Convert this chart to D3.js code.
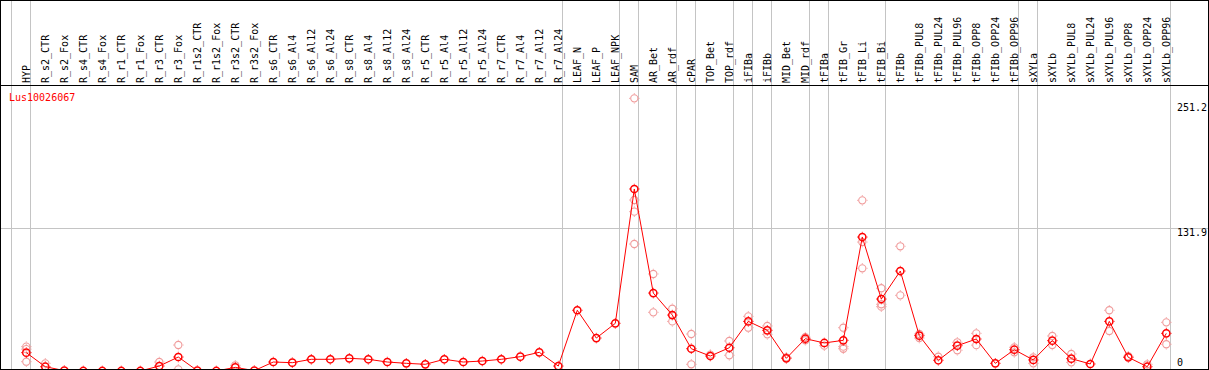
<!DOCTYPE html>
<html>
<head>
<meta charset="utf-8">
<script src="https://cdn.jsdelivr.net/npm/d3@7.9.0/dist/d3.min.js"></script>
<style>
  html, body { margin: 0; padding: 0; background: #fff; }
  svg { display: block; }
  text { font-family: 'DejaVu Sans Mono', monospace; font-size: 10px; }
</style>
</head>
<body>
<svg id="chart" width="1209" height="370"></svg>
<script>
const geneName = 'Lus10026067';

const samples = [
  'HYP', 'R_s2_CTR', 'R_s2_Fox', 'R_s4_CTR', 'R_s4_Fox', 'R_r1_CTR', 'R_r1_Fox',
  'R_r3_CTR', 'R_r3_Fox', 'R_r1s2_CTR', 'R_r1s2_Fox', 'R_r3s2_CTR', 'R_r3s2_Fox',
  'R_s6_CTR', 'R_s6_Al4', 'R_s6_Al12', 'R_s6_Al24', 'R_s8_CTR', 'R_s8_Al4',
  'R_s8_Al12', 'R_s8_Al24', 'R_r5_CTR', 'R_r5_Al4', 'R_r5_Al12', 'R_r5_Al24',
  'R_r7_CTR', 'R_r7_Al4', 'R_r7_Al12', 'R_r7_Al24', 'LEAF_N', 'LEAF_P', 'LEAF_NPK',
  'SAM', 'AR_Bet', 'AR_rdf', 'cPAR', 'TOP_Bet', 'TOP_rdf', 'iFIBa', 'iFIBb',
  'MID_Bet', 'MID_rdf', 'tFIBa', 'tFIB_Gr', 'tFIB_Li', 'tFIB_Bi', 'tFIBb',
  'tFIBb_PUL8', 'tFIBb_PUL24', 'tFIBb_PUL96', 'tFIBb_OPP8', 'tFIBb_OPP24', 'tFIBb_OPP96',
  'sXYLa', 'sXYLb', 'sXYLb_PUL8', 'sXYLb_PUL24', 'sXYLb_PUL96', 'sXYLb_OPP8',
  'sXYLb_OPP24', 'sXYLb_OPP96'
];

// mean expression per sample
const means = [
  17.3, 4.4, 0.8, 0.5, 0.5, 0.5, 0.5, 5.0, 13.3, 0.8, 0.5, 3.8, 0.8,
  8.7, 8.1, 11.2, 11.2, 12.1, 11.2, 8.7, 7.5, 6.6, 11.2, 8.7, 9.6,
  11.2, 13.6, 17.6, 5.0, 56.2, 30.7, 44.2,
  167.5, 72.0, 51.8, 20.9, 14.2, 21.8, 46.0, 37.8,
  12.1, 30.1, 26.2, 28.6, 123.4, 66.5, 92.2,
  32.9, 10.3, 23.7, 29.8, 7.5, 20.0,
  10.6, 28.3, 11.8, 6.9, 46.0, 13.0, 4.4, 35.0
];

// individual replicates (only the ones that show apart from the mean)
const replicates = [
  [22.8, 20.5, 9.0], [7.5], [], [], [], [], [], [8.7], [24.3, 2.0], [], [], [5.7], [],
  [], [], [], [], [], [], [], [], [], [], [], [],
  [], [], [], [], [], [], [],
  [250.7, 157.4, 146.7, 117.0], [89.5, 54.3], [57.6, 46.0], [34.4, 6.6], [15.5], [28.0, 14.9], [50.6, 40.2], [41.8, 34.1],
  [13.0], [31.5, 28.7], [23.7], [40.2, 22.8, 20.9], [157.1, 118.8, 94.7], [76.4, 61.7, 59.5], [114.9, 69.9],
  [34.4, 30.7], [13.6], [26.8, 19.5], [35.0, 24.2], [], [22.2, 17.6],
  [13.0, 7.5], [32.6, 24.3], [16.1, 8.4], [], [56.2, 37.2], [14.0], [6.6], [45.1, 25.0]
];

// last sample of each group (grey separators)
const groupEnds = ['HYP', 'R_r7_Al24', 'LEAF_NPK', 'SAM', 'AR_rdf', 'cPAR', 'TOP_rdf',
  'iFIBa', 'iFIBb', 'MID_rdf', 'tFIBa', 'tFIB_Bi', 'tFIBb_OPP96', 'sXYLa', 'sXYLb_OPP96'];

const yTicks = [0, 131.9, 251.2];

const W = 1209, H = 370;
const headerBottom = 85.5, plotBottom = 369;

const svg = d3.select('#chart');

const x = d3.scalePoint().domain(samples).range([26.3, 1166.3]);
const step = x.step();
const y = d3.scaleLinear().domain([0, 251.2]).range([371.5, 97.8]);

// grey grid
const grid = svg.append('g').attr('stroke', '#c4c4c4').attr('shape-rendering', 'crispEdges');
const sepX = [x(samples[0]) - step + 4].concat(groupEnds.map(s => x(s) + 4));
grid.selectAll('line.v').data(sepX).join('line')
  .attr('x1', d => Math.round(d) + 0.5).attr('x2', d => Math.round(d) + 0.5)
  .attr('y1', 0).attr('y2', plotBottom);
grid.selectAll('line.h').data(yTicks.filter(t => t > 0 && t < 251.2)).join('line')
  .attr('x1', 0).attr('x2', W)
  .attr('y1', d => Math.round(y(d)) + 0.5).attr('y2', d => Math.round(y(d)) + 0.5);

// sample labels
svg.append('g').selectAll('text').data(samples).join('text')
  .attr('transform', d => `translate(${x(d) + 4},83) rotate(-90)`)
  .attr('fill', '#000')
  .text(d => d);

// y labels
svg.append('g').selectAll('text').data(yTicks).join('text')
  .attr('x', 1177)
  .attr('y', d => Math.max(111, Math.min(366, y(d) + 8)))
  .attr('fill', '#000')
  .text(d => d);

svg.append('text').attr('x', 9).attr('y', 101).attr('fill', '#ff0000').text(geneName);

// plot clip
svg.append('clipPath').attr('id', 'clip').append('rect')
  .attr('x', 1).attr('y', headerBottom + 0.5).attr('width', W - 2).attr('height', plotBottom - headerBottom - 0.5);
const plot = svg.append('g').attr('clip-path', 'url(#clip)');

function marker(g, color, sw) {
  g.append('circle').attr('r', 3.6).attr('fill', 'none').attr('stroke', color).attr('stroke-width', sw);
  g.append('path').attr('d', 'M0,-5.2V-4.4M0,4.4V5.2M-5.2,0H-4.4M4.4,0H5.2')
    .attr('stroke', color).attr('stroke-width', 1);
}

const repData = replicates.flatMap((arr, i) => arr.map(v => ({ s: samples[i], v })));
plot.selectAll('g.rep').data(repData).join('g')
  .attr('class', 'rep')
  .attr('transform', d => `translate(${x(d.s)},${y(d.v)})`)
  .each(function () { marker(d3.select(this), '#f09a9a', 1.1); });

const line = d3.line().x((d, i) => x(samples[i])).y(d => y(d));
plot.append('path').datum(means).attr('d', line)
  .attr('fill', 'none').attr('stroke', '#ff0000').attr('stroke-width', 1);

plot.selectAll('g.mean').data(means).join('g')
  .attr('class', 'mean')
  .attr('transform', (d, i) => `translate(${x(samples[i])},${y(d)})`)
  .each(function () { marker(d3.select(this), '#ff0000', 1.5); });

// borders
svg.append('line').attr('x1', 0).attr('x2', W).attr('y1', headerBottom).attr('y2', headerBottom)
  .attr('stroke', '#000').attr('shape-rendering', 'crispEdges');
svg.append('rect').attr('x', 0.5).attr('y', 0.5).attr('width', 1208).attr('height', plotBottom)
  .attr('fill', 'none').attr('stroke', '#000').attr('shape-rendering', 'crispEdges');
</script>
</body>
</html>
